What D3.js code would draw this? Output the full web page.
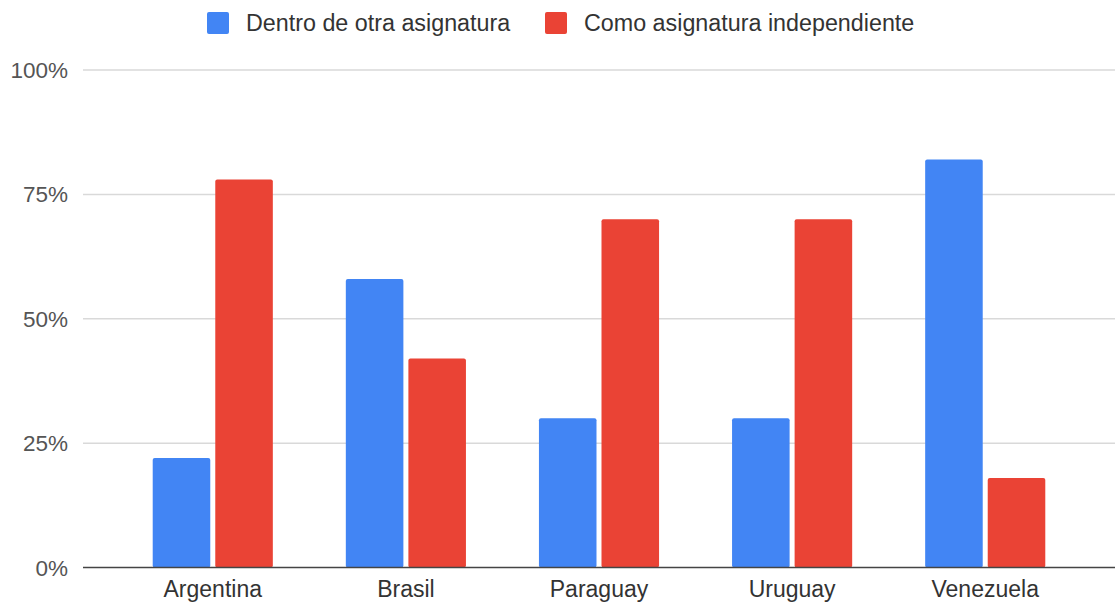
<!DOCTYPE html>
<html>
<head>
<meta charset="utf-8">
<script src="https://cdnjs.cloudflare.com/ajax/libs/d3/7.8.5/d3.min.js"></script>
<style>
  body { margin: 0; background: #fff; }
  svg { display: block; font-family: Arial, "Liberation Sans", sans-serif; }
</style>
</head>
<body>
<svg id="chart" width="1117" height="605"></svg>
<script>
// data
var paises = ["Argentina", "Brasil", "Paraguay", "Uruguay", "Venezuela"];
var series = ["Dentro de otra asignatura", "Como asignatura independiente"];
var dentro = [22, 58, 30, 30, 82];
var como   = [78, 42, 70, 70, 18];
var yTicks = [0, 25, 50, 75, 100];
var colores = ["#4285f4", "#ea4335"];

var svg = d3.select("#chart");

// plot box (note: "top" is taken by window.top, so use other names)
var pLeft = 83, pRight = 1115, pTop = 70, pBottom = 567.5;

var x = d3.scaleBand()
  .domain(paises)
  .range([pLeft, pRight])
  .paddingInner(0.378)
  .paddingOuter(0.361);

var xs = d3.scaleBand()
  .domain(series)
  .range([0, x.bandwidth()])
  .paddingInner(0.08);

var y = d3.scaleLinear().domain([0, 100]).range([pBottom, pTop]);

// gridlines
svg.append("g").selectAll("line")
  .data(yTicks.filter(function(t){ return t > 0; }))
  .enter().append("line")
  .attr("x1", pLeft).attr("x2", pRight)
  .attr("y1", function(t){ return y(t); })
  .attr("y2", function(t){ return y(t); })
  .attr("stroke", "#d9d9d9")
  .attr("stroke-width", 1.5);

// y labels
svg.append("g").selectAll("text")
  .data(yTicks)
  .enter().append("text")
  .attr("x", 68)
  .attr("y", function(t){ return y(t); })
  .attr("dy", "0.36em")
  .attr("text-anchor", "end")
  .attr("font-size", "22.5px")
  .attr("fill", "#555")
  .text(function(t){ return t + "%"; });

// bars
var rows = paises.map(function(p, i){
  return { pais: p, vals: [dentro[i], como[i]] };
});

var grupos = svg.append("g").selectAll("g")
  .data(rows)
  .enter().append("g")
  .attr("transform", function(d){ return "translate(" + x(d.pais) + ",0)"; });

grupos.selectAll("rect")
  .data(function(d){ return d.vals.map(function(v, j){ return { s: series[j], v: v, c: colores[j] }; }); })
  .enter().append("rect")
  .attr("x", function(d){ return xs(d.s); })
  .attr("width", xs.bandwidth())
  .attr("y", function(d){ return y(d.v); })
  .attr("height", function(d){ return pBottom - y(d.v); })
  .attr("rx", 2)
  .attr("fill", function(d){ return d.c; });

// baseline
svg.append("line")
  .attr("x1", pLeft).attr("x2", pRight)
  .attr("y1", pBottom).attr("y2", pBottom)
  .attr("stroke", "#444")
  .attr("stroke-width", 1.5);

// x labels
svg.append("g").selectAll("text")
  .data(paises)
  .enter().append("text")
  .attr("x", function(p){ return x(p) + x.bandwidth() / 2; })
  .attr("y", 597)
  .attr("text-anchor", "middle")
  .attr("font-size", "23px")
  .attr("fill", "#333")
  .text(function(p){ return p; });

// legend
var legX = [207, 545];
var leg = svg.append("g").selectAll("g")
  .data(series)
  .enter().append("g")
  .attr("transform", function(s, i){ return "translate(" + legX[i] + ",12)"; });

leg.append("rect")
  .attr("width", 22).attr("height", 22)
  .attr("rx", 2)
  .attr("fill", function(s, i){ return colores[i]; });

leg.append("text")
  .attr("x", 39)
  .attr("y", 11)
  .attr("dy", "0.36em")
  .attr("font-size", "23.3px")
  .attr("fill", "#333")
  .text(function(s){ return s; });
</script>
</body>
</html>
